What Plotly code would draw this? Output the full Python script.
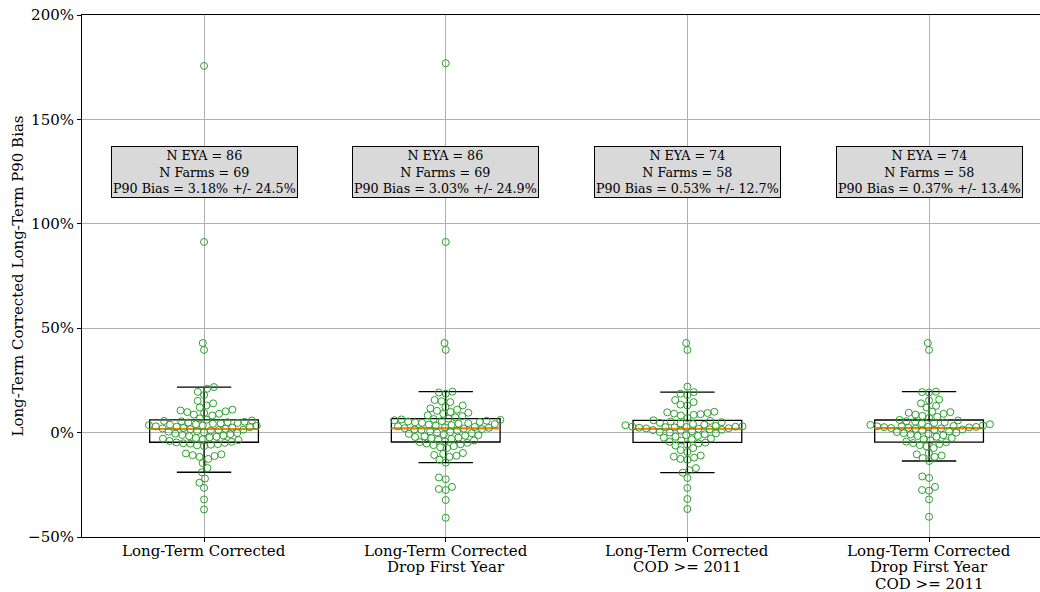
import numpy as np
import plotly.graph_objects as go

# ---------------- data ----------------
categories = [
    "Long-Term Corrected",
    "Long-Term Corrected\nDrop First Year",
    "Long-Term Corrected\nCOD >= 2011",
    "Long-Term Corrected\nDrop First Year\nCOD >= 2011",
]

bias_lt = [
    175.6, 91.3, 42.9, 39.6,
    21.8, 21.0, 19.5, 18.0, 15.2, 14.0, 13.0, 12.0,
    11.0, 10.6, 10.2, 9.8, 9.4, 9.0, 8.6, 8.2, 6.8, 6.2,
    5.8, 5.6, 5.4, 5.2, 5.0, 4.8, 4.6, 4.4, 4.2, 4.0, 3.8, 3.6, 3.4, 3.2, 3.0,
    2.8, 2.6, 2.4, 2.2, 2.0, 1.8,
    1.6, 1.4, 1.2, 1.0, 0.7, 0.4, 0.1, -0.2, -0.5, -0.8, -1.1, -1.4, -1.7, -2.0,
    -2.3, -2.6, -2.9, -3.2, -3.6, -4.0, -4.4,
    -4.7, -4.9, -5.1, -5.3, -5.5, -5.8, -6.1, -6.5,
    -10.0, -10.4, -10.8, -11.2, -11.6, -12.6,
    -14.6, -17.0, -19.0, -22.0, -24.0, -26.5, -32.0, -36.8,
]

bias_lt_drop = [
    176.9, 91.3, 42.9, 39.6,
    19.6, 19.2, 18.6, 15.6, 15.0, 14.6,
    13.0, 12.2, 11.6, 11.0, 10.4, 9.9, 9.5, 9.0,
    8.3, 7.9, 7.3, 6.7,
    6.5, 6.3, 6.1, 5.9, 5.7, 5.5, 5.3, 5.1, 4.9, 4.7, 4.5, 4.3, 4.1, 3.9, 3.6,
    3.3, 3.0, 2.7, 2.5, 2.3, 2.1,
    1.9, 1.7, 1.5, 1.2, 0.9, 0.6, 0.3, 0.0, -0.3, -0.6, -0.9, -1.2, -1.5, -1.8,
    -2.1, -2.4, -2.7, -3.0, -3.4, -3.8, -4.2,
    -4.6, -4.9, -5.2, -5.6, -6.0, -6.5, -7.0, -7.4,
    -9.8, -10.2, -10.7, -11.1, -11.6, -13.0, -14.4,
    -21.5, -22.3, -26.0, -27.0, -27.5, -32.3, -40.8,
]

bias_lt_cod = [
    42.9, 39.6, 22.0,
    19.4, 18.6, 18.0, 15.6, 14.6,
    13.4, 13.0,
    10.0, 9.7, 9.4, 9.1, 8.8, 8.5, 8.2, 7.0,
    5.9, 5.6, 5.3, 5.0, 4.7, 4.4, 4.1, 3.8, 3.5, 3.2, 3.0, 2.9, 2.8, 2.7, 2.6,
    2.5, 2.3, 2.1, 2.0,
    1.8, 1.6, 1.4, 1.2, 0.9, 0.6, 0.3, 0.0, -0.4, -0.8, -1.2, -1.6, -2.0, -2.4,
    -2.8, -3.2, -3.8, -4.4,
    -4.8, -5.2, -5.7, -6.2, -7.4, -8.4, -9.3, -11.0, -11.5, -12.0, -12.6, -13.0,
    -17.0, -18.0, -19.2, -21.7, -26.5, -31.8, -36.6,
]

bias_lt_drop_cod = [
    42.9, 39.6,
    19.6, 19.4, 19.2,
    15.8, 15.4, 14.0,
    12.8, 12.0,
    10.0, 9.8, 9.5, 9.0, 8.6, 8.0, 7.6, 7.0,
    6.1, 5.8, 5.5, 5.2, 4.9, 4.6, 4.3, 4.0, 3.7, 3.4, 3.2, 3.0, 2.9, 2.8, 2.7,
    2.6, 2.5, 2.3, 2.2,
    2.0, 1.8, 1.5, 1.2, 0.9, 0.6, 0.3, 0.0, -0.3, -0.6, -0.9, -1.2, -1.6, -2.0,
    -2.6, -3.2, -3.8, -4.3,
    -4.6, -5.0, -5.5, -6.0, -6.6, -7.4, -9.8, -10.4, -11.0, -11.6, -12.2, -13.6,
    -21.0, -21.7, -26.0, -27.5, -27.8, -32.0, -40.3,
]

n_eya = [86, 86, 74, 74]
n_farms = [69, 69, 58, 58]
mean_bias = ["3.18%", "3.03%", "0.53%", "0.37%"]
std_bias = ["24.5%", "24.9%", "12.7%", "13.4%"]

y_tick_vals = [-50, 0, 50, 100, 150, 200]
y_tick_text = ["\u221250%", "0%", "50%", "100%", "150%", "200%"]

series = [bias_lt, bias_lt_drop, bias_lt_cod, bias_lt_drop_cod]

# ---------------- geometry helpers ----------------
X_RANGE = [-0.505, 3.459]
Y_RANGE = [-50, 200]
MARGIN = dict(l=82, r=0, t=15, b=55)
W, H = 1040, 592
plot_w = W - MARGIN["l"] - MARGIN["r"]
plot_h = H - MARGIN["t"] - MARGIN["b"]
xpx = plot_w / (X_RANGE[1] - X_RANGE[0])
ypx = plot_h / (Y_RANGE[1] - Y_RANGE[0])
BOX_W = 0.45
D_PX = 7.0
FONT = "DejaVu Serif"


def swarm_offsets(values):
    vals = np.asarray(values, float)
    order = np.argsort(vals, kind="stable")
    ys = vals * ypx
    xs = np.zeros(len(vals))
    placed = []
    for i in order:
        y = ys[i]
        near = [(px, py) for px, py in placed if abs(py - y) < D_PX]
        cands = [0.0]
        for px, py in near:
            dx = np.sqrt(D_PX ** 2 - (py - y) ** 2)
            cands += [px - dx, px + dx]
        cands = sorted(set(cands), key=lambda c: (abs(c), c))
        for c in cands:
            if all((c - px) ** 2 + (y - py) ** 2 >= D_PX ** 2 - 1e-6 for px, py in near):
                xs[i] = c
                break
        placed.append((xs[i], y))
    return xs / xpx


def box_stats(values):
    v = np.asarray(values, float)
    q1, med, q3 = np.percentile(v, [25, 50, 75])
    iqr = q3 - q1
    lo = v[v >= q1 - 1.5 * iqr].min()
    hi = v[v <= q3 + 1.5 * iqr].max()
    return q1, med, q3, lo, hi


fig = go.Figure()

positions = list(range(len(categories)))
stats = [box_stats(s) for s in series]

fig.add_trace(go.Box(
    x=positions,
    q1=[s[0] for s in stats],
    median=[s[1] for s in stats],
    q3=[s[2] for s in stats],
    lowerfence=[s[3] for s in stats],
    upperfence=[s[4] for s in stats],
    width=BOX_W,
    whiskerwidth=0.5,
    fillcolor="rgba(0,0,0,0)",
    line=dict(color="black", width=1.3),
    boxpoints=False,
    hoverinfo="skip",
    showlegend=False,
))

# median lines (matplotlib style orange)
mx, my = [], []
for p, s in zip(positions, stats):
    mx += [p - BOX_W / 2, p + BOX_W / 2, None]
    my += [s[1], s[1], None]
fig.add_trace(go.Scatter(x=mx, y=my, mode="lines",
                         line=dict(color="#ff7f0e", width=2),
                         hoverinfo="skip", showlegend=False))

# swarm points
for p, s in zip(positions, series):
    off = swarm_offsets(s)
    fig.add_trace(go.Scatter(
        x=p + off, y=s, mode="markers",
        marker=dict(symbol="circle-open", size=7, color="#2ca02c",
                    line=dict(width=1, color="#2ca02c")),
        showlegend=False, hoverinfo="y",
    ))

# stats annotations
for p, ne, nf, mb, sb in zip(positions, n_eya, n_farms, mean_bias, std_bias):
    fig.add_annotation(
        x=p, y=125, xref="x", yref="y",
        text=f"N EYA = {ne}<br>N Farms = {nf}<br>P90 Bias = {mb} +/- {sb}",
        showarrow=False, align="center",
        font=dict(family=FONT, size=12.7, color="black"),
        bgcolor="#d9d9d9", bordercolor="black", borderwidth=1, borderpad=1,
    )

# category labels (one annotation per line for matplotlib-like line spacing)
for p, cat in zip(positions, categories):
    for k, line in enumerate(cat.split("\n")):
        fig.add_annotation(
            x=p, y=0, xref="x", yref="paper",
            text=line, showarrow=False,
            xanchor="center", yanchor="middle",
            yshift=-(13.5 + 16.5 * k),
            font=dict(family=FONT, size=15, color="black"),
        )

fig.update_layout(
    width=W, height=H, margin=MARGIN,
    plot_bgcolor="white", paper_bgcolor="white",
    font=dict(family=FONT, size=15, color="black"),
    showlegend=False,
)
fig.update_xaxes(
    range=X_RANGE, tickvals=positions, showticklabels=False,
    showgrid=True, gridcolor="#b0b0b0", gridwidth=1,
    showline=True, linecolor="black", linewidth=1, mirror=True,
    ticks="outside", ticklen=4, tickcolor="black", zeroline=False,
    automargin=False,
)
fig.update_yaxes(
    range=Y_RANGE, tickvals=y_tick_vals, ticktext=y_tick_text,
    showgrid=True, gridcolor="#b0b0b0", gridwidth=1,
    showline=True, linecolor="black", linewidth=1,
    ticks="outside", ticklen=4, tickcolor="black", zeroline=False,
    tickfont=dict(family=FONT, size=15),
    automargin=False,
    title=dict(text="Long-Term Corrected Long-Term P90 Bias",
               font=dict(family=FONT, size=15), standoff=0),
)

fig.write_html("out.html",
               config={"displayModeBar": False},
               post_script="document.body.style.margin='0';document.body.style.overflow='hidden';")
